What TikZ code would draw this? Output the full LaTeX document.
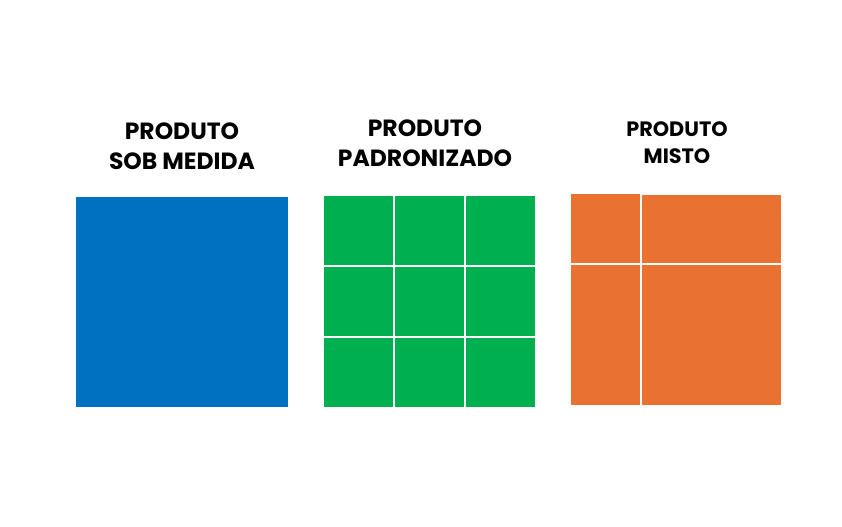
\documentclass[tikz,border=0pt]{standalone}
\usepackage{fontspec}
\setmainfont{Poppins}
\definecolor{cblue}{HTML}{0070C0}
\definecolor{cgreen}{HTML}{00B050}
\definecolor{corange}{HTML}{E97132}
\begin{document}
\begin{tikzpicture}[x=0.75pt,y=-0.75pt,
  title/.style={font=\bfseries\fontsize{17.6}{22.5}\selectfont, align=center, inner sep=0pt, text=black},
  titlesmall/.style={font=\bfseries\fontsize{15.6}{20.3}\selectfont, align=center, inner sep=0pt, text=black}]
\useasboundingbox[fill=white] (0,0) rectangle (842,526);
% titles
\node[title] (t1) at (182,146) {PRODUTO\\SOB MEDIDA};
\node[title] (t2) at (425,143) {PRODUTO\\PADRONIZADO};
\node[titlesmall] (t3) at (677,143) {PRODUTO\\MISTO};
% blue
\fill[cblue] (76,197) rectangle (288,407);
% green grid
\foreach \i in {0,1,2}{
  \foreach \j in {0,1,2}{
    \fill[cgreen] ({324+71*\i},{196+71*\j}) rectangle ({393+71*\i},{265+71*\j});
  }
}
% orange
\fill[corange] (571,194) rectangle (640,263);
\fill[corange] (642,195) rectangle (781,263);
\fill[corange] (571,265) rectangle (640,405);
\fill[corange] (642,265) rectangle (781,405);
\end{tikzpicture}
\end{document}
